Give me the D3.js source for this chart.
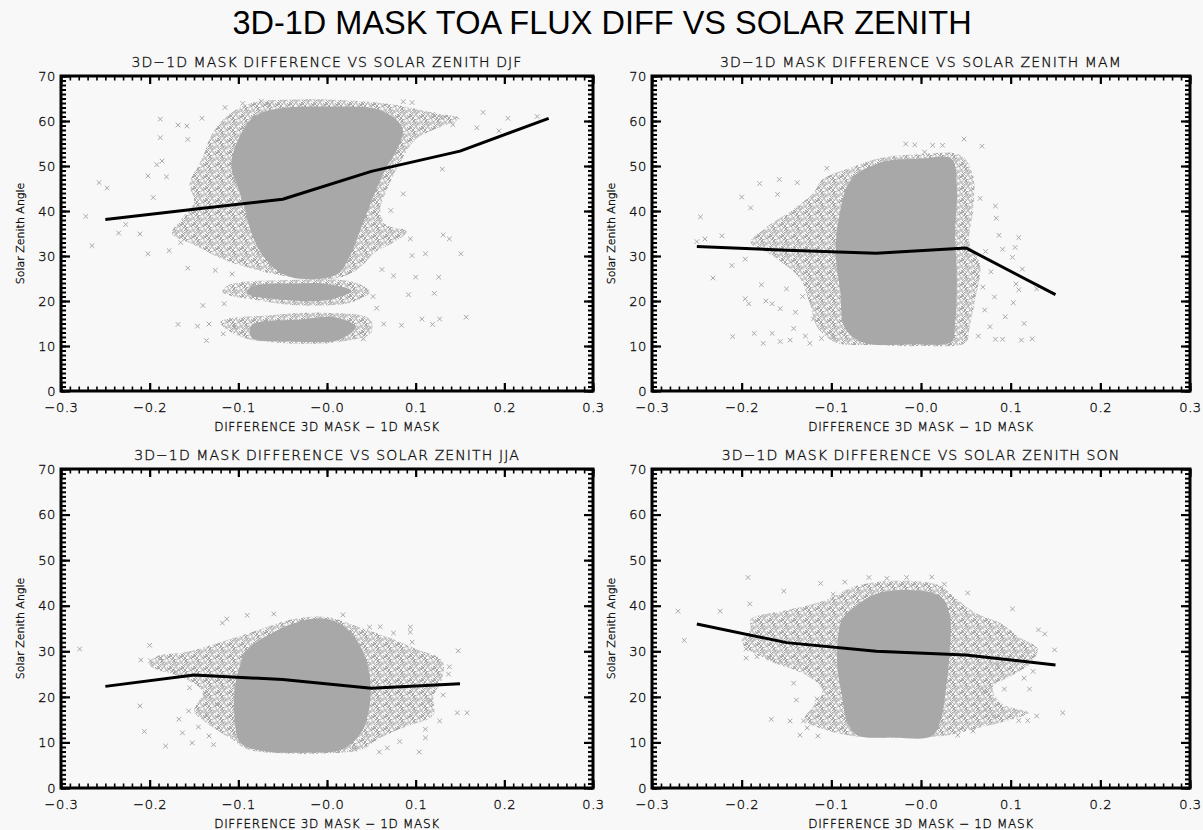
<!DOCTYPE html>
<html>
<head>
<meta charset="utf-8">
<script src="https://cdn.jsdelivr.net/npm/d3@7"></script>
<style>
  html, body { margin: 0; padding: 0; background: #f8f8f8; }
  svg { display: block; }
  .thin { font-family: "DejaVu Sans", "Liberation Sans", sans-serif; font-weight: 200;
          fill: #111; stroke: #111; stroke-width: 0.35px; }
</style>
</head>
<body>
<svg id="chart" width="1203" height="830"></svg>
<script>
// ---- axis labels -------------------------------------------------------
const xTickValues = [-0.3, -0.2, -0.1, 0.0, 0.1, 0.2, 0.3];
const xTickLabels = ["\u22120.3", "\u22120.2", "\u22120.1", "\u22120.0", "0.1", "0.2", "0.3"];
const yTickValues = [0, 10, 20, 30, 40, 50, 60, 70];
const yTickLabels = ["0", "10", "20", "30", "40", "50", "60", "70"];
const seasons = ["DJF", "MAM", "JJA", "SON"];

// ---- bin-mean curves (centre of each 0.1 difference bin) ---------------
const binCenters = [-0.25, -0.15, -0.05, 0.05, 0.15, 0.25];
const djfMean = [38.1, 40.4, 42.6, 48.8, 53.3, 60.6];
const mamMean = [32.1, 31.3, 30.6, 31.8, 21.4];
const jjaMean = [22.3, 24.8, 23.8, 21.9, 22.9];
const sonMean = [36.0, 31.9, 30.0, 29.2, 27.0];

// ---- scatter clouds: solid core, x-textured fringe, isolated points ----
const djfCore = [
  [[-0.085,60.5],[-0.062,62.5],[0.0,63.2],[0.06,62.4],[0.085,58.5],[0.08,54],[0.068,50],[0.056,45],[0.046,40],[0.036,35],[0.026,30],[0.012,26],[-0.02,24.9],[-0.05,26],[-0.072,30],[-0.085,35],[-0.092,40],[-0.1,45],[-0.108,50],[-0.102,55]],
  [[-0.085,23.2],[-0.03,23.9],[0.0,23.8],[0.028,22.2],[0.0,20.2],[-0.05,20.3],[-0.09,21.7]],
  [[-0.085,14.6],[-0.03,15.9],[0.012,16.3],[0.032,14.2],[0.014,11.4],[-0.04,11.0],[-0.085,11.9]]
];
const djfHalo = [
  [[-0.13,57],[-0.11,61.5],[-0.085,64.0],[-0.03,64.8],[0.03,64.5],[0.08,63.5],[0.12,61.8],[0.15,60.6],[0.12,58],[0.1,56],[0.086,52],[0.075,48],[0.066,44],[0.06,40],[0.066,37],[0.09,35.5],[0.075,33],[0.055,31],[0.04,28],[0.022,25.6],[-0.02,24.8],[-0.06,26],[-0.09,27.5],[-0.12,29.5],[-0.15,32.5],[-0.175,35],[-0.165,38],[-0.15,42],[-0.155,46],[-0.14,52]],
  [[-0.118,22],[-0.11,23.6],[-0.05,24.6],[0.03,24.2],[0.048,22],[0.028,19.7],[-0.03,19.0],[-0.08,20.2]],
  [[-0.1,12.2],[-0.12,15.3],[-0.06,16.9],[0.0,17.4],[0.048,16],[0.05,13],[0.014,10.9],[-0.06,10.8]]
];
const djfOutliers = [
  [-0.272,38.8],[-0.265,32.3],[-0.257,46.3],[-0.248,45.1],[-0.235,35.1],[-0.227,37.0],[-0.211,34.9],
  [-0.202,47.8],[-0.202,30.5],[-0.196,43.0],[-0.192,50.3],[-0.188,60.4],[-0.188,56.3],[-0.186,51.1],
  [-0.181,47.6],[-0.168,59.1],[-0.168,14.8],[-0.158,58.9],[-0.157,55.9],[-0.157,27.3],[-0.146,14.4],
  [-0.141,60.6],[-0.133,14.9],[-0.136,11.2],[-0.140,19.0],[-0.095,63.9],[-0.074,64.4],[-0.065,63.7],
  [0.086,64.3],[0.096,64.1],[0.119,61.5],[0.176,61.9],[0.169,58.5],[0.204,60.6],[0.237,61.0],
  [0.194,57.8],[0.130,49.3],[0.131,34.7],[0.138,33.8],[0.151,30.5],[0.126,25.3],[0.121,21.7],
  [0.092,21.4],[0.100,25.3],[0.157,16.4],[0.127,16.0],[0.119,14.8],[0.107,16.0],[0.072,40.1],
  [0.086,43.8],[0.041,11.6],[0.096,30.1],[0.111,30.5],[0.075,25.6],[0.094,33.8],[0.064,14.9],
  [0.084,14.6],[-0.116,19.4],[-0.117,12.7],[-0.105,14.2],[-0.178,31.2],[-0.165,33.0],[-0.126,26.8],
  [-0.107,26.0],[0.062,27.0],[0.056,18.4],[0.052,21.0],[0.142,59.2],[0.128,60.8],[-0.115,63.0]
];

const mamCore = [
  [[-0.092,38],[-0.078,47],[-0.045,50.8],[0.0,51.6],[0.034,51.6],[0.04,45],[0.038,35],[0.04,25],[0.038,15],[0.034,11],[-0.01,10.4],[-0.065,10.8],[-0.085,14],[-0.09,22],[-0.095,30]]
];
const mamHalo = [
  [[-0.12,44],[-0.11,47],[-0.08,49.5],[-0.045,51.8],[0.0,52.6],[0.044,52.4],[0.058,48],[0.058,40],[0.054,33],[0.066,28],[0.06,20],[0.054,14],[0.05,10.8],[0.0,10.0],[-0.05,10.2],[-0.095,10.8],[-0.115,14],[-0.125,20],[-0.135,25],[-0.165,30],[-0.19,33],[-0.175,36],[-0.145,40]]
];
const mamOutliers = [
  [-0.246,38.7],[-0.25,33.2],[-0.241,33.8],[-0.232,25.1],[-0.222,34.5],[-0.211,27.9],[-0.210,12.1],
  [-0.200,43.1],[-0.196,29.3],[-0.196,20.5],[-0.192,19.4],[-0.190,40.7],[-0.186,12.8],[-0.180,46.1],
  [-0.178,23.6],[-0.176,10.6],[-0.173,20.0],[-0.166,19.4],[-0.166,12.8],[-0.160,43.7],[-0.158,47.0],
  [-0.157,11.0],[-0.157,18.3],[-0.150,22.7],[-0.146,11.3],[-0.142,13.9],[-0.138,46.3],[-0.129,12.2],
  [-0.124,10.6],[-0.111,11.7],[-0.098,12.1],[-0.017,54.9],[-0.007,54.7],[0.004,53.1],[0.013,54.6],
  [0.024,54.6],[0.048,56.0],[0.068,54.4],[0.066,42.8],[0.083,41.1],[0.084,38.4],[0.087,34.6],
  [0.105,31.9],[0.109,34.1],[0.102,29.7],[0.113,27.1],[0.106,23.8],[0.109,22.5],[0.103,19.6],
  [0.115,15.0],[0.094,16.5],[0.082,20.9],[0.083,11.5],[0.091,11.5],[0.112,11.3],[0.124,11.6],
  [0.129,22.7],[0.091,31.5],[0.069,23.1],[0.077,14.3],[-0.14,17.5],[-0.132,21.0],[-0.12,16.0],
  [0.072,31.0],[0.078,26.5],[0.071,18.0],[0.064,12.2],[-0.105,49.5]
];

const jjaCore = [
  [[-0.098,27],[-0.092,30],[-0.062,34],[-0.03,36.6],[0.0,37.1],[0.022,35],[0.038,31],[0.048,25],[0.048,18],[0.038,12],[0.016,8.4],[-0.02,7.8],[-0.072,8.1],[-0.098,10],[-0.104,15],[-0.104,22]]
];
const jjaHalo = [
  [[-0.19,29],[-0.16,29.8],[-0.12,32],[-0.08,34.5],[-0.04,37],[0.0,37.5],[0.04,35],[0.07,33],[0.1,30.5],[0.13,28],[0.13,24],[0.12,20],[0.12,16],[0.09,13.5],[0.06,11],[0.04,8.5],[0.0,7.6],[-0.05,7.6],[-0.09,8.5],[-0.11,11],[-0.13,13.5],[-0.15,17],[-0.14,21],[-0.16,24],[-0.2,27]]
];
const jjaOutliers = [
  [-0.279,30.5],[-0.211,18.0],[-0.210,28.1],[-0.206,12.4],[-0.200,31.3],[-0.199,27.9],[-0.188,28.5],
  [-0.182,9.2],[-0.167,15.1],[-0.163,12.1],[-0.156,16.9],[-0.152,9.9],[-0.145,13.4],[-0.137,20.2],
  [-0.136,16.2],[-0.133,11.4],[-0.124,18.4],[-0.118,36.2],[-0.113,37.1],[-0.090,37.9],[0.031,8.5],
  [0.059,7.9],[0.104,7.9],[0.111,11.0],[0.127,14.7],[0.147,16.5],[0.158,16.5],[0.148,30.1],
  [0.131,20.4],[0.117,19.1],[0.094,35.3],[0.094,34.2],[0.075,34.0],[0.048,35.3],[0.060,35.4],
  [0.096,32.0],[0.138,26.6],[0.137,25.0],[0.111,12.9],[-0.17,25.5],[-0.155,22.0],[-0.128,9.5],
  [0.082,10.2],[0.068,8.8],[-0.06,38.2],[0.018,38.0]
];

const sonCore = [
  [[-0.088,37],[-0.072,40],[-0.05,42.6],[-0.01,43.4],[0.022,42],[0.032,38],[0.032,30],[0.028,22],[0.022,15],[0.012,11.4],[-0.03,11.1],[-0.072,11.7],[-0.083,15],[-0.088,20],[-0.093,26],[-0.093,32]]
];
const sonHalo = [
  [[-0.19,35],[-0.19,37],[-0.15,39],[-0.11,41],[-0.07,44.5],[-0.02,45.5],[0.02,44.5],[0.04,41.5],[0.06,38.5],[0.09,36],[0.11,33],[0.13,30.5],[0.12,27],[0.1,24.5],[0.08,22],[0.09,18.5],[0.12,16.5],[0.1,15],[0.06,13],[0.03,11.6],[-0.03,11],[-0.08,11.5],[-0.11,13],[-0.13,15],[-0.12,18],[-0.11,21.5],[-0.13,25],[-0.17,28],[-0.2,32]]
];
const sonOutliers = [
  [-0.271,38.8],[-0.264,32.4],[-0.224,38.8],[-0.193,46.2],[-0.191,40.4],[-0.195,30.5],[-0.195,28.5],
  [-0.183,28.8],[-0.169,28.5],[-0.157,27.9],[-0.153,43.2],[-0.167,15.1],[-0.146,14.7],[-0.139,19.3],
  [-0.135,11.6],[-0.131,14.7],[-0.127,13.2],[-0.116,19.5],[-0.115,11.4],[-0.112,44.9],[-0.085,45.2],
  [-0.058,46.2],[-0.038,46.0],[-0.016,46.2],[0.012,46.3],[0.026,44.7],[0.041,11.6],[0.058,12.5],
  [0.102,39.3],[0.131,34.7],[0.138,33.8],[0.149,30.3],[0.125,25.6],[0.121,21.7],[0.158,16.5],
  [0.129,15.8],[0.119,14.8],[0.109,14.8],[0.093,21.7],[0.115,24.1],[0.070,21.3],[0.072,17.3],
  [0.081,15.8],[-0.142,23.0],[-0.128,26.5],[-0.098,42.5],[0.052,42.8],[0.085,27.0]
];

// ---- page layout -------------------------------------------------------
const svg = d3.select("#chart");
const frames = [
  { left: 61,  right: 593,  top: 76,  bottom: 391 },
  { left: 652, right: 1190, top: 76,  bottom: 391 },
  { left: 61,  right: 593,  top: 469, bottom: 788 },
  { left: 652, right: 1190, top: 469, bottom: 788 }
];
const panelData = [
  { mean: djfMean, core: djfCore, halo: djfHalo, pts: djfOutliers },
  { mean: mamMean, core: mamCore, halo: mamHalo, pts: mamOutliers },
  { mean: jjaMean, core: jjaCore, halo: jjaHalo, pts: jjaOutliers },
  { mean: sonMean, core: sonCore, halo: sonHalo, pts: sonOutliers }
];

const CLOUD = "#a8a8a8";

// scattered x-marker texture used for the fringe of each cloud
const defs = svg.append("defs");
const TILE = 12;
const tileMarks = [[1.5,2],[6,1],[10,3.5],[3.5,5.5],[8,6.5],[1,9],[5,10],[10.5,10],[7,3.5],[3,8]];
const pat = defs.append("pattern").attr("id", "xfill")
  .attr("patternUnits", "userSpaceOnUse").attr("width", TILE).attr("height", TILE);
const hs = 2.1;
tileMarks.forEach(([cx, cy]) => {
  [[0, 0], [TILE, 0], [-TILE, 0], [0, TILE], [0, -TILE]].forEach(([ox, oy]) => {
    const px = cx + ox, py = cy + oy;
    pat.append("path")
      .attr("d", `M${px - hs},${py - hs}L${px + hs},${py + hs}M${px - hs},${py + hs}L${px + hs},${py - hs}`)
      .attr("stroke", CLOUD).attr("stroke-width", 1).attr("fill", "none");
  });
});

// main title
svg.append("text")
  .attr("x", 602).attr("y", 34)
  .attr("text-anchor", "middle")
  .style("font-family", "'Liberation Sans', Arial, sans-serif")
  .style("font-size", "32.5px")
  .style("fill", "#000")
  .text("3D-1D MASK TOA FLUX DIFF VS SOLAR ZENITH");

frames.forEach((f, i) => {
  const d = panelData[i];
  const x = d3.scaleLinear().domain([-0.3, 0.3]).range([f.left, f.right]);
  const y = d3.scaleLinear().domain([0, 70]).range([f.bottom, f.top]);
  const g = svg.append("g");
  const cx = (f.left + f.right) / 2;

  // subtitle
  g.append("text").attr("class", "thin")
    .attr("x", cx).attr("y", f.top - 9)
    .attr("text-anchor", "middle")
    .style("font-size", "14px").style("letter-spacing", "1.1px")
    .text("3D\u22121D MASK DIFFERENCE VS SOLAR ZENITH " + seasons[i]);

  // clipped plotting region
  const clipId = "clip" + i;
  defs.append("clipPath").attr("id", clipId)
    .append("rect").attr("x", f.left).attr("y", f.top)
    .attr("width", f.right - f.left).attr("height", f.bottom - f.top);
  const plot = g.append("g").attr("clip-path", `url(#${clipId})`);

  const area = d3.line().x(p => x(p[0])).y(p => y(p[1])).curve(d3.curveCatmullRomClosed.alpha(0.5));

  plot.selectAll(".halo").data(d.halo).join("path")
    .attr("d", area).attr("fill", "url(#xfill)");
  plot.selectAll(".core").data(d.core).join("path")
    .attr("d", area).attr("fill", CLOUD);

  const s = 2.3;
  plot.selectAll(".pt").data(d.pts).join("path")
    .attr("d", p => {
      const px = x(p[0]), py = y(p[1]);
      return `M${px - s},${py - s}L${px + s},${py + s}M${px - s},${py + s}L${px + s},${py - s}`;
    })
    .attr("stroke", CLOUD).attr("stroke-width", 1).attr("fill", "none");

  // bin-mean curve
  const meanPts = d.mean.map((v, k) => [binCenters[k], v]);
  plot.append("path")
    .attr("d", d3.line().x(p => x(p[0])).y(p => y(p[1]))(meanPts))
    .attr("fill", "none").attr("stroke", "#000").attr("stroke-width", 3)
    .attr("stroke-linejoin", "round");

  // axes: ticks on all four sides, pointing inward
  const xMinor = d3.range(-30, 31).map(v => v / 100);
  const yMinor = d3.range(0, 71);

  const tickGroup = (axis, transform) => {
    const a = g.append("g").attr("transform", transform).call(axis);
    a.select(".domain").remove();
    a.selectAll("line").attr("stroke", "#000");
    return a;
  };

  // minor ticks
  tickGroup(d3.axisBottom(x).tickValues(xMinor).tickSize(-4.5).tickFormat(""), `translate(0,${f.bottom})`)
    .selectAll("line").attr("stroke-width", 1.6);
  tickGroup(d3.axisTop(x).tickValues(xMinor).tickSize(-4.5).tickFormat(""), `translate(0,${f.top})`)
    .selectAll("line").attr("stroke-width", 1.6);
  tickGroup(d3.axisLeft(y).tickValues(yMinor).tickSize(-5).tickFormat(""), `translate(${f.left},0)`)
    .selectAll("line").attr("stroke-width", 2);
  tickGroup(d3.axisRight(y).tickValues(yMinor).tickSize(-5).tickFormat(""), `translate(${f.right},0)`)
    .selectAll("line").attr("stroke-width", 2);

  // major ticks with labels
  const xb = tickGroup(d3.axisBottom(x).tickValues(xTickValues).tickSize(-8)
      .tickFormat((v, k) => xTickLabels[k]).tickPadding(12), `translate(0,${f.bottom})`);
  xb.selectAll("line").attr("stroke-width", 2.2);
  xb.selectAll("text").attr("class", "thin").attr("fill", null)
    .style("font-size", "13px").style("letter-spacing", "0.6px");

  tickGroup(d3.axisTop(x).tickValues(xTickValues).tickSize(-8).tickFormat(""), `translate(0,${f.top})`)
    .selectAll("line").attr("stroke-width", 2.2);

  const yl = tickGroup(d3.axisLeft(y).tickValues(yTickValues).tickSize(-9)
      .tickFormat((v, k) => yTickLabels[k]).tickPadding(5), `translate(${f.left},0)`);
  yl.selectAll("line").attr("stroke-width", 2.2);
  yl.selectAll("text").attr("class", "thin").attr("fill", null)
    .style("font-size", "13px").style("letter-spacing", "0.6px");

  tickGroup(d3.axisRight(y).tickValues(yTickValues).tickSize(-9).tickFormat(""), `translate(${f.right},0)`)
    .selectAll("line").attr("stroke-width", 2.2);

  // frame
  g.append("rect")
    .attr("x", f.left).attr("y", f.top)
    .attr("width", f.right - f.left).attr("height", f.bottom - f.top)
    .attr("fill", "none").attr("stroke", "#000").attr("stroke-width", 3);

  // axis titles
  g.append("text").attr("class", "thin")
    .attr("x", cx).attr("y", f.bottom + 40)
    .attr("text-anchor", "middle")
    .style("font-size", "12px").style("letter-spacing", "0.7px")
    .text("DIFFERENCE 3D MASK \u2212 1D MASK");

  g.append("text").attr("class", "thin")
    .attr("transform", `translate(${f.left - 37},${(f.top + f.bottom) / 2}) rotate(-90)`)
    .attr("text-anchor", "middle")
    .style("font-size", "11px")
    .text("Solar Zenith Angle");
});
</script>
</body>
</html>
